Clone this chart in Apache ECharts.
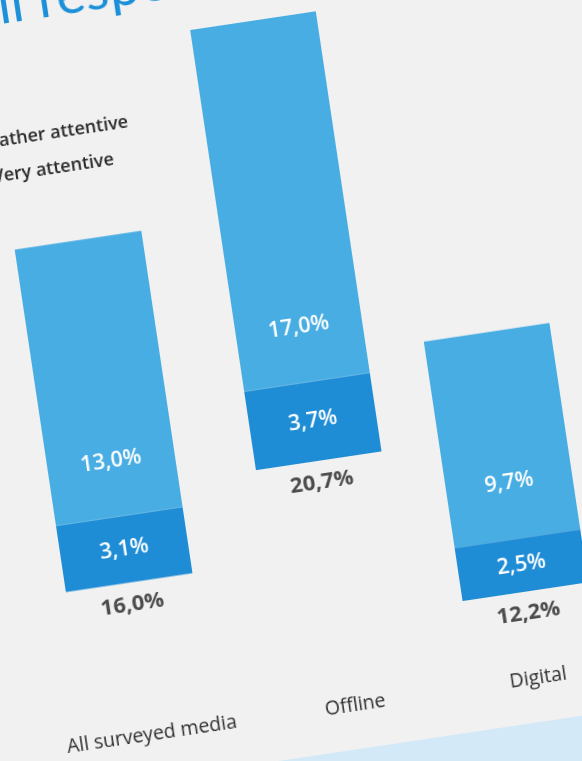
<!DOCTYPE html>
<html>
<head>
<meta charset="utf-8">
<script src="https://cdn.jsdelivr.net/npm/echarts@6/dist/echarts.min.js"></script>
<style>
  html, body { margin: 0; padding: 0; width: 582px; height: 761px; overflow: hidden; background: #f1f1f1; }
  #chart {
    position: absolute; left: -100px; top: -100px; width: 800px; height: 960px;
    transform-origin: 391px 480px; transform: rotate(-8.5deg);
  }
</style>
</head>
<body>
<div id="chart"></div>
<script>
// Attention shares by media type (percent of respondents)
const categories = ['All surveyed media', 'Offline', 'Digital'];
const veryAttentive = [3.1, 3.7, 2.5];
const ratherAttentive = [13.0, 17.0, 9.7];
const totals = [16.0, 20.7, 12.2];

const LIGHT = '#48ade2';
const DARK = '#1f8dd5';
const fmt = v => v.toFixed(1).replace('.', ',') + '%';

// Each bar floats in its own panel; panels share the same value scale.
const panels = [
  { left: 137, top: 183.5, width: 128, labelMargin: 143 },
  { left: 343, top: 91, width: 127, labelMargin: 236 },
  { left: 528, top: 251, width: 127, labelMargin: 76 }
];
const PANEL_H = 473;
const Y_MAX = 22;

const grid = [], xAxis = [], yAxis = [], series = [];
panels.forEach((p, i) => {
  grid.push({ left: p.left, top: p.top, width: p.width, height: PANEL_H });
  xAxis.push({
    type: 'category', gridIndex: i, data: [categories[i]],
    axisLine: { show: false }, axisTick: { show: false },
    axisLabel: {
      margin: p.labelMargin, fontFamily: 'Open Sans', fontSize: 19.5,
      lineHeight: 22, color: '#2f2f2f'
    }
  });
  yAxis.push({
    type: 'value', gridIndex: i, min: 0, max: Y_MAX,
    show: false, splitLine: { show: false }
  });
  series.push({
    name: 'Very attentive', type: 'bar', stack: 's' + i,
    xAxisIndex: i, yAxisIndex: i, barWidth: '100%',
    itemStyle: { color: DARK },
    label: {
      show: true, position: 'inside', color: '#ffffff',
      fontFamily: 'Open Sans', fontWeight: 600, fontSize: 21.5, formatter: d => fmt(d.value)
    },
    data: [veryAttentive[i]]
  });
  series.push({
    name: 'Rather attentive', type: 'bar', stack: 's' + i,
    xAxisIndex: i, yAxisIndex: i, barWidth: '100%',
    itemStyle: { color: LIGHT },
    label: {
      show: true, position: 'insideBottom', distance: 45, color: '#ffffff',
      fontFamily: 'Open Sans', fontWeight: 600, fontSize: 21.5, formatter: d => fmt(d.value)
    },
    data: [ratherAttentive[i]]
  });
  // total under the bar, anchored at the bar's base
  series.push({
    name: 'total' + i, type: 'scatter', xAxisIndex: i, yAxisIndex: i,
    symbolSize: 0, silent: true,
    label: {
      show: true, position: 'bottom', distance: 11, color: '#222222',
      fontFamily: 'Open Sans', fontWeight: 'bold', fontSize: 22,
      formatter: () => fmt(totals[i])
    },
    data: [[categories[i], 0]]
  });
});

const chart = echarts.init(document.getElementById('chart'), null, { renderer: 'canvas' });
chart.setOption({
  animation: false,
  backgroundColor: 'transparent',
  title: {
    text: 'All respondents', left: 114, top: 35,
    textStyle: { fontFamily: 'Lato', fontWeight: 'normal', fontSize: 55, color: '#1b90d8' }
  },
  legend: {
    data: ['Rather attentive', 'Very attentive'],
    orient: 'vertical', left: 96, top: 186, itemWidth: 20, itemHeight: 20, itemGap: 15,
    icon: 'rect',
    textStyle: { fontFamily: 'Open Sans', fontWeight: 600, fontSize: 18, color: '#2a2a2a' }
  },
  graphic: [{
    type: 'rect', left: 238, top: 855, shape: { width: 700, height: 200 },
    style: { fill: '#d3e9f8' }, silent: true
  }],
  grid, xAxis, yAxis, series
});
</script>
</body>
</html>
